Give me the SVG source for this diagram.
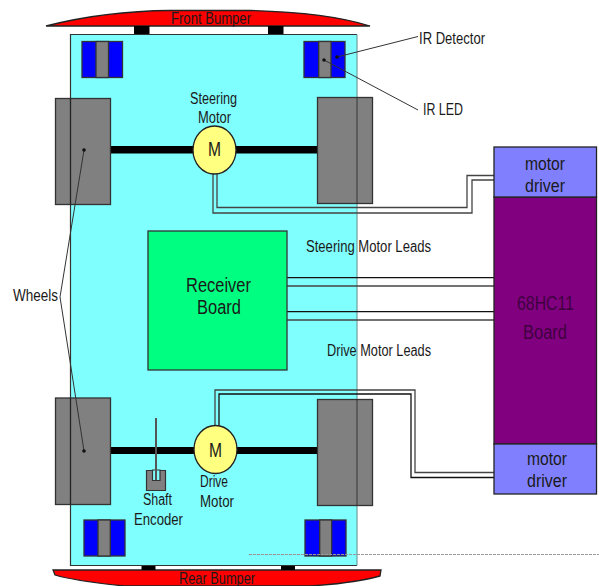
<svg xmlns="http://www.w3.org/2000/svg" width="599" height="586" viewBox="0 0 599 586">
<style>
text{font-family:"Liberation Sans",Arial,sans-serif;font-size:16px;fill:#1a1a1a;text-anchor:start}
.big{font-size:20px}
.mid{font-size:18px}
.o{stroke:#222;stroke-width:1.3}
.w{fill:#808080;stroke:#333;stroke-width:1.3}
.b{fill:#0000ff;stroke:#333;stroke-width:1.3}
.g{fill:#808080;stroke:#333;stroke-width:1.3}
.l{fill:none;stroke:#111;stroke-width:1.3}
.lw{fill:none;stroke:#444;stroke-width:1.3}
.lead{fill:none;stroke:#333;stroke-width:1}
.ax{fill:#000}
</style>
<rect width="599" height="586" fill="#fff"/>
<g id="front-bumper">
<path class="o" fill="#ff0000" d="M46 26Q105 11 170 10.500H250Q325 12 370 26Z"/>
<rect class="ax" x="134" y="26" width="15.500" height="8"/><rect class="ax" x="268" y="26" width="15.500" height="8"/>
<text x="171" y="24" textLength="80" lengthAdjust="spacingAndGlyphs">Front Bumper</text>
</g>
<g id="rear-bumper">
<path class="o" fill="#ff0000" d="M53 570H381L380 576Q355 583 310 586H125Q75 581 55 575Z"/>
<rect class="ax" x="141.500" y="565" width="14" height="5"/><rect class="ax" x="281" y="565" width="14" height="5"/>
<text x="179" y="584" textLength="76" lengthAdjust="spacingAndGlyphs">Rear Bumper</text>
</g>
<g id="chassis"><rect x="70.500" y="34.500" width="286.500" height="531" fill="#80ffff"/><path d="M357 34.500H70.500V565.500H357" fill="none" stroke="#333" stroke-width="1.200"/><path d="M357 34.500V565.500" stroke="#6f9f9f" stroke-width="1.200"/></g>
<g id="axles">
<rect class="ax" x="110" y="146" width="207" height="7.500"/>
<rect class="ax" x="110" y="447" width="207" height="7"/>
</g>
<g id="ir-tl"><rect class="b" x="82" y="41.500" width="40.500" height="36"/><rect class="g" x="96" y="41.500" width="12.500" height="36"/></g>
<g id="ir-tr"><rect class="b" x="304" y="41.500" width="41" height="36"/><rect class="g" x="318.700" y="41.500" width="12.300" height="36"/></g>
<g id="ir-bl"><rect class="b" x="84" y="520" width="41" height="36"/><rect class="g" x="98" y="520" width="12.300" height="36"/></g>
<g id="ir-br"><rect class="b" x="305" y="520" width="41" height="36"/><rect class="g" x="319.700" y="520" width="12" height="36"/></g>
<g id="wheel-tl"><rect class="w" x="55.500" y="98.500" width="55" height="106"/><path class="o" d="M70.500 98.500V204.500"/></g>
<g id="wheel-tr"><rect class="w" x="317.500" y="97.500" width="55" height="106"/><path class="o" stroke-opacity=".6" d="M357 97.500V203.500"/></g>
<g id="wheel-bl"><rect class="w" x="55.500" y="398" width="55" height="106.500"/><path class="o" d="M70.500 398V504.500"/></g>
<g id="wheel-br"><rect class="w" x="317.500" y="399.500" width="55" height="106"/><path class="o" stroke-opacity=".6" d="M357 399.500V505.500"/></g>
<g id="connectors">
<path class="lw" d="M213 174V213H472V180H494"/>
<path class="lw" d="M217 174V207.500H467V175.500H494"/>
<path class="lw" d="M215 426V390H415V472.500H494"/>
<path class="l" d="M219 426V394H411V477.500H494"/>
<path class="l" d="M287 277.700H494"/>
<path class="lw" d="M287 286H494"/>
<path class="l" d="M287 311.700H494"/>
<path class="lw" d="M287 320H494"/>
<path class="lead" d="M84 150L60 297L84 451"/>
<path class="lead" d="M337 57L418 36.500"/>
<path class="lead" d="M324 60L418 110"/>
<circle cx="84" cy="150" r="1.800" fill="#111"/><circle cx="84" cy="451" r="1.800" fill="#111"/><circle cx="337" cy="57" r="1.800" fill="#111"/><circle cx="324" cy="60" r="1.800" fill="#111"/>
</g>
<g id="steering-motor"><ellipse class="o" cx="214.500" cy="150" rx="21.500" ry="24" fill="#ffff80"/><text class="big" x="208" y="156" textLength="13" lengthAdjust="spacingAndGlyphs">M</text><text x="190" y="104" textLength="47" lengthAdjust="spacingAndGlyphs">Steering</text><text x="198" y="123" textLength="33" lengthAdjust="spacingAndGlyphs">Motor</text></g>
<g id="drive-motor"><ellipse class="o" cx="215.500" cy="449.500" rx="21.500" ry="24" fill="#ffff80"/><text class="big" x="209" y="457" textLength="13" lengthAdjust="spacingAndGlyphs">M</text><text x="200" y="487" textLength="28" lengthAdjust="spacingAndGlyphs">Drive</text><text x="200" y="507" textLength="34" lengthAdjust="spacingAndGlyphs">Motor</text></g>
<g id="shaft-encoder">
<path fill="#808080" stroke="#333" stroke-width="1.200" d="M146.500 470.500H165.500V490.500H146.500Z"/>
<path fill="#80ffff" stroke="#333" stroke-width="1.200" d="M152.500 470V480.500H160V470Z"/>
<path stroke="#555" stroke-width="2" d="M156 418V480"/>
<text x="143" y="505" textLength="29" lengthAdjust="spacingAndGlyphs">Shaft</text><text x="134" y="525" textLength="49" lengthAdjust="spacingAndGlyphs">Encoder</text>
</g>
<g id="receiver-board"><rect x="148" y="231" width="139" height="139" fill="#00ff80" stroke="#333" stroke-width="1.300"/><text class="big" x="186" y="292" textLength="65" lengthAdjust="spacingAndGlyphs">Receiver</text><text class="big" x="197" y="314" textLength="44" lengthAdjust="spacingAndGlyphs">Board</text></g>
<g id="controller">
<rect x="494" y="197" width="102.500" height="247" fill="#800080" stroke="#222" stroke-width="1.300"/>
<text class="big" x="517" y="310" style="fill:#400040" textLength="57" lengthAdjust="spacingAndGlyphs">68HC11</text><text class="big" x="523" y="339" style="fill:#400040" textLength="44" lengthAdjust="spacingAndGlyphs">Board</text>
</g>
<g id="driver-top"><rect x="494" y="147" width="102.500" height="50" fill="#8080ff" stroke="#222" stroke-width="1.300"/><text class="mid" x="525" y="170" textLength="40" lengthAdjust="spacingAndGlyphs">motor</text><text class="mid" x="525" y="192" textLength="40" lengthAdjust="spacingAndGlyphs">driver</text></g>
<g id="driver-bottom"><rect x="494" y="444" width="102.500" height="50" fill="#8080ff" stroke="#222" stroke-width="1.300"/><text class="mid" x="527" y="465" textLength="40" lengthAdjust="spacingAndGlyphs">motor</text><text class="mid" x="527" y="487" textLength="40" lengthAdjust="spacingAndGlyphs">driver</text></g>
<g id="labels">
<text x="419" y="44" textLength="66" lengthAdjust="spacingAndGlyphs">IR Detector</text>
<text x="423" y="115" textLength="40" lengthAdjust="spacingAndGlyphs">IR LED</text>
<text x="13" y="301" textLength="45" lengthAdjust="spacingAndGlyphs">Wheels</text>
<text x="306" y="252" textLength="125" lengthAdjust="spacingAndGlyphs">Steering Motor Leads</text>
<text x="327" y="356" textLength="104" lengthAdjust="spacingAndGlyphs">Drive Motor Leads</text>
</g>
<path id="artifact" d="M249 554.500H599" stroke="#999" stroke-width="1" stroke-dasharray="3 1"/>
</svg>
